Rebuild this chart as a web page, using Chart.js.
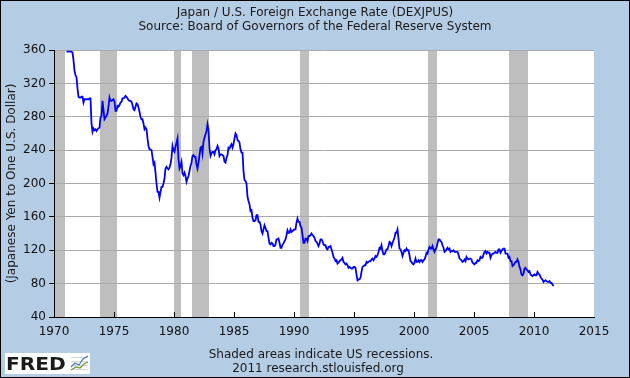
<!DOCTYPE html>
<html lang="en">
<head>
    <meta charset="UTF-8">
    <title>Japan / U.S. Foreign Exchange Rate</title>
    <script src="https://cdn.jsdelivr.net/npm/chart.js"></script>
    <style>
        html, body { margin: 0; padding: 0; background: #b4cde5; }
        canvas { display: block; }
    </style>
    <script>
        // monthly averages, yen per dollar (starting Jan 1971)
        const startYear = 1971;
        const rate1970s = [
            358, 358, 358, 358, 358, 358, 357, 348, 335, 330, 327, 314,
            304, 303, 303, 304, 304, 297, 301, 301, 301, 301, 301, 302,
            302, 272, 262, 266, 264, 265, 263, 265, 266, 267, 279, 281,
            299, 288, 277, 279, 281, 284, 292, 303, 299, 299, 300, 301,
            298, 287, 287, 293, 292, 294, 297, 298, 302, 302, 303, 305,
            304, 302, 300, 299, 299, 298, 294, 289, 288, 292, 296, 295,
            291, 286, 280, 277, 277, 272, 265, 267, 265, 254, 245, 241,
            241, 240, 232, 223, 225, 213, 200, 190, 190, 183, 190, 196,
            196, 200, 206, 218, 220, 218, 217, 219, 223, 231, 245, 240
        ];
        const rate1980s = [
            238, 244, 249, 254, 229, 218, 221, 226, 212, 210, 213, 209,
            202, 206, 209, 215, 221, 225, 233, 234, 232, 232, 223, 218,
            225, 234, 243, 244, 236, 250, 255, 259, 263, 271, 264, 242,
            233, 236, 238, 238, 235, 240, 241, 245, 242, 233, 235, 235,
            234, 233, 226, 225, 231, 234, 243, 242, 245, 247, 243, 247,
            254, 260, 258, 252, 251, 249, 241, 237, 237, 215, 204, 203,
            200, 184, 179, 175, 167, 168, 159, 155, 155, 156, 162, 162,
            154, 154, 151, 143, 140, 145, 150, 147, 143, 143, 135, 128,
            127, 129, 128, 125, 125, 127, 133, 133, 134, 129, 123, 123,
            127, 128, 131, 133, 138, 144, 141, 141, 145, 142, 143, 144
        ];
        const rate1990s = [
            145, 145, 153, 158, 154, 154, 149, 147, 138, 129, 129, 134,
            134, 131, 137, 137, 138, 140, 138, 137, 135, 131, 130, 128,
            125, 128, 133, 133, 131, 127, 126, 126, 122, 121, 124, 124,
            125, 121, 117, 112, 110, 107, 108, 104, 105, 107, 108, 109,
            111, 106, 105, 103, 104, 102, 99, 100, 99, 98, 98, 100,
            100, 99, 91, 84, 85, 85, 87, 94, 100, 101, 102, 102,
            106, 105, 106, 107, 107, 109, 110, 108, 110, 113, 112, 114,
            118, 123, 122, 126, 119, 115, 115, 118, 121, 121, 125, 130,
            129, 125, 129, 132, 135, 141, 141, 145, 134, 122, 121, 118,
            113, 117, 120, 119, 122, 120, 120, 114, 107, 106, 104, 103
        ];
        const rate2000s = [
            105, 110, 106, 106, 108, 106, 108, 108, 106, 108, 109, 112,
            117, 116, 121, 124, 122, 122, 125, 121, 118, 121, 123, 128,
            133, 133, 131, 130, 126, 123, 118, 119, 121, 123, 121, 122,
            118, 119, 119, 120, 118, 118, 118, 118, 115, 110, 109, 108,
            106, 107, 109, 107, 112, 110, 109, 110, 110, 109, 105, 104,
            103, 105, 105, 108, 107, 108, 112, 111, 111, 115, 118, 119,
            116, 118, 117, 117, 111, 114, 116, 116, 117, 118, 117, 117,
            121, 121, 117, 119, 121, 122, 122, 116, 116, 116, 111, 112,
            107, 107, 101, 102, 104, 106, 106, 109, 106, 100, 97, 91,
            90, 92, 98, 99, 97, 96, 94, 95, 91, 90, 89, 90
        ];
        const rate2010s = [
            91, 90, 90, 94, 92, 91, 88, 86, 85, 82, 83, 84,
            83, 82, 82, 83, 81, 81, 79, 77
        ];

        // US recessions: [start year, start month, end year, end month]
        const recessions = [
            [1969, 12, 1970, 11],
            [1973, 11, 1975, 3],
            [1980, 1, 1980, 7],
            [1981, 7, 1982, 11],
            [1990, 7, 1991, 3],
            [2001, 3, 2001, 11],
            [2007, 12, 2009, 6]
        ];

        const xTicks = [1970, 1975, 1980, 1985, 1990, 1995, 2000, 2005, 2010, 2015];
        const yTicks = [40, 80, 120, 160, 200, 240, 280, 320, 360];

        const titleLines = [
            'Japan / U.S. Foreign Exchange Rate (DEXJPUS)',
            'Source: Board of Governors of the Federal Reserve System'
        ];
        const noteLines = [
            'Shaded areas indicate US recessions.',
            '2011 research.stlouisfed.org'
        ];

        const FONT = '"DejaVu Sans", Verdana, sans-serif';

        function buildPoints() {
            const all = rate1970s.concat(rate1980s, rate1990s, rate2000s, rate2010s);
            return all.map((v, i) => ({ x: startYear + (i + 0.5) / 12, y: v }));
        }

        const fredFrame = {
            id: 'fredFrame',
            beforeDraw(chart) {
                const { ctx, chartArea: a, scales } = chart;
                ctx.save();
                ctx.fillStyle = '#b4cde5';
                ctx.fillRect(0, 0, chart.width, chart.height);
                ctx.fillStyle = '#ffffff';
                ctx.fillRect(a.left, a.top, a.right - a.left, a.bottom - a.top);

                // recession bars
                ctx.beginPath();
                ctx.rect(a.left, a.top, a.right - a.left, a.bottom - a.top);
                ctx.clip();
                ctx.fillStyle = '#bebebe';
                recessions.forEach(r => {
                    const x0 = scales.x.getPixelForValue(r[0] + (r[1] - 1) / 12);
                    const x1 = scales.x.getPixelForValue(r[2] + r[3] / 12);
                    ctx.fillRect(x0, a.top, x1 - x0, a.bottom - a.top);
                });
                ctx.restore();
            },
            afterDraw(chart) {
                const { ctx, chartArea: a, scales } = chart;
                ctx.save();

                // small inward ticks on the date axis
                ctx.strokeStyle = '#000';
                ctx.lineWidth = 1;
                xTicks.slice(1, -1).forEach(t => {
                    const x = Math.round(scales.x.getPixelForValue(t)) + 0.5;
                    ctx.beginPath();
                    ctx.moveTo(x, a.bottom);
                    ctx.lineTo(x, a.bottom - 5);
                    ctx.stroke();
                });

                ctx.fillStyle = '#1a1a1a';
                ctx.font = '12px ' + FONT;
                ctx.textAlign = 'center';
                ctx.textBaseline = 'middle';
                ctx.fillText(titleLines[0], 315, 13);
                ctx.fillText(titleLines[1], 315, 27);
                ctx.fillText(noteLines[0], 321, 355);
                ctx.fillText(noteLines[1], 318, 369);

                // FRED logo
                ctx.fillStyle = '#ffffff';
                ctx.fillRect(5, 353, 85, 21);
                ctx.save();
                ctx.translate(6, 370);
                ctx.scale(1.12, 1);
                ctx.fillStyle = '#1a1a1a';
                ctx.font = 'bold 18px ' + FONT;
                ctx.textAlign = 'left';
                ctx.textBaseline = 'alphabetic';
                ctx.fillText('FRED', 0, 0);
                ctx.restore();
                ctx.strokeStyle = '#d4d4d4';
                for (let i = 0; i < 4; i++) {
                    ctx.beginPath();
                    ctx.moveTo(71, 357.5 + i * 4);
                    ctx.lineTo(88, 357.5 + i * 4);
                    ctx.stroke();
                }
                ctx.lineWidth = 1.2;
                ctx.strokeStyle = '#6a9a3a';
                ctx.beginPath();
                ctx.moveTo(71, 370); ctx.lineTo(76, 367); ctx.lineTo(80, 368); ctx.lineTo(84, 364); ctx.lineTo(88, 362);
                ctx.stroke();
                ctx.strokeStyle = '#4a7cc0';
                ctx.beginPath();
                ctx.moveTo(71, 367); ctx.lineTo(75, 363); ctx.lineTo(79, 365); ctx.lineTo(83, 359); ctx.lineTo(88, 356);
                ctx.stroke();

                // outer frame
                ctx.strokeStyle = '#000';
                ctx.lineWidth = 1;
                ctx.strokeRect(0.5, 0.5, chart.width - 1, chart.height - 1);
                ctx.restore();
            }
        };

        document.addEventListener('DOMContentLoaded', function () {
            const ctx = document.getElementById('rateChart').getContext('2d');
            new Chart(ctx, {
                type: 'line',
                data: {
                    datasets: [{
                        label: 'DEXJPUS',
                        data: buildPoints(),
                        borderColor: '#0000ff',
                        borderWidth: 1.8,
                        pointRadius: 0,
                        tension: 0,
                        fill: false
                    }]
                },
                options: {
                    responsive: false,
                    animation: false,
                    layout: { padding: { top: 50, right: 36, bottom: 0, left: 0 } },
                    plugins: {
                        legend: { display: false },
                        tooltip: { enabled: false }
                    },
                    scales: {
                        x: {
                            type: 'linear',
                            min: 1970,
                            max: 2015,
                            afterBuildTicks: s => { s.ticks = xTicks.map(v => ({ value: v })); },
                            afterFit: s => { s.height = 61; },
                            grid: { display: false, drawTicks: false },
                            border: { display: true, color: '#000', width: 1 },
                            ticks: {
                                padding: 8,
                                color: '#111',
                                font: { family: FONT, size: 12 },
                                callback: v => String(v),
                                maxRotation: 0,
                                autoSkip: false
                            }
                        },
                        y: {
                            min: 40,
                            max: 360,
                            afterBuildTicks: s => { s.ticks = yTicks.map(v => ({ value: v })); },
                            afterFit: s => { s.width = 54; },
                            grid: { color: '#aaaaaa', tickColor: '#000', tickLength: 5 },
                            border: { display: true, color: '#000', width: 1 },
                            ticks: {
                                padding: 3,
                                color: '#111',
                                font: { family: FONT, size: 12 },
                                callback: v => String(v)
                            },
                            title: {
                                display: true,
                                text: '(Japanese Yen to One U.S. Dollar)',
                                color: '#1a1a1a',
                                font: { family: FONT, size: 12 },
                                padding: { top: 5, bottom: 0 }
                            }
                        }
                    }
                },
                plugins: [fredFrame]
            });
        });
    </script>
</head>
<body>
    <canvas id="rateChart" width="630" height="378"></canvas>
</body>
</html>
